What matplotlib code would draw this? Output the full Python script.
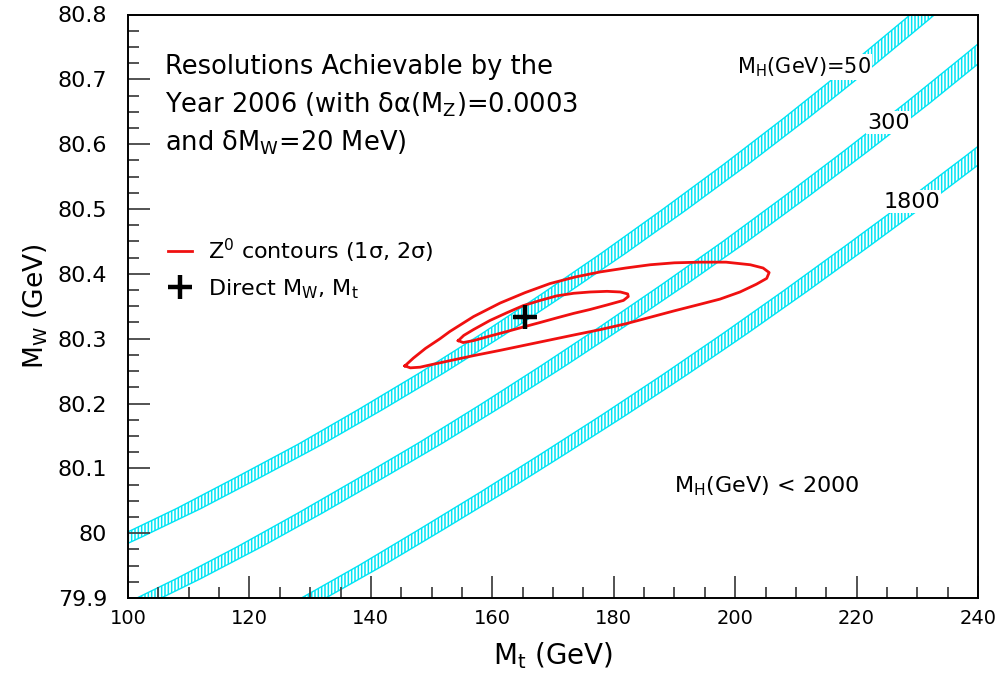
import matplotlib.pyplot as plt
import numpy as np
from matplotlib.ticker import MultipleLocator, FuncFormatter

plt.rcParams['mathtext.default'] = 'regular'
plt.rcParams['hatch.linewidth'] = 1.1

# Higgs-mass bands: centre lines (Mt in GeV, MW in GeV)
mt_50 = [90, 100, 110, 120, 130, 140, 150, 160, 170, 180, 190, 200, 210, 220, 230, 240]
mw_50 = [79.950, 79.993, 80.038, 80.087, 80.137, 80.191, 80.247, 80.306,
         80.368, 80.432, 80.499, 80.568, 80.640, 80.715, 80.793, 80.873]
mt_300 = [100, 110, 120, 130, 140, 150, 160, 170, 180, 190, 200, 210, 220, 230, 240, 250]
mw_300 = [79.884, 79.930, 79.979, 80.031, 80.085, 80.140, 80.198, 80.258,
          80.320, 80.384, 80.450, 80.519, 80.590, 80.663, 80.739, 80.817]
mt_1800 = [120, 130, 140, 150, 160, 170, 180, 190, 200, 210, 220, 230, 240, 250]
mw_1800 = [79.845, 79.897, 79.950, 80.006, 80.063, 80.122, 80.182, 80.244,
           80.308, 80.374, 80.442, 80.511, 80.582, 80.655]
band_halfwidth = 2.0  # in Mt

# Z0 contours (2 sigma outer, 1 sigma inner)
outer_mt = [145.6, 147.0, 149.0, 151.4, 153.0, 156.9, 161.3, 165.4, 169.5, 173.6, 177.8, 182.0, 186.0, 190.0,
            194.2, 198.5, 202.5, 204.6, 205.6,
            205.2, 203.5, 200.8, 197.5, 194.2, 190.0, 186.0, 182.0, 177.8, 173.6, 169.5, 165.4, 161.3, 157.0,
            153.0, 150.0, 148.1, 146.5]
outer_mw = [80.258, 80.270, 80.285, 80.300, 80.311, 80.334, 80.355, 80.371, 80.385, 80.395, 80.403, 80.409, 80.414, 80.417,
            80.418, 80.418, 80.414, 80.409, 80.402,
            80.393, 80.384, 80.372, 80.361, 80.353, 80.343, 80.333, 80.323, 80.314, 80.306, 80.298, 80.290, 80.282, 80.274,
            80.266, 80.260, 80.256, 80.255]
inner_mt = [154.4, 155.3, 156.9, 159.6, 162.4, 165.1, 167.9, 170.6, 173.4, 176.1, 178.9, 181.1, 182.3, 182.4,
            181.6, 178.9, 176.1, 173.4, 170.6, 167.9, 165.1, 162.4, 159.6, 156.9, 155.2]
inner_mw = [80.297, 80.305, 80.314, 80.328, 80.340, 80.351, 80.359, 80.366, 80.370, 80.372, 80.373, 80.372, 80.369, 80.365,
            80.359, 80.352, 80.345, 80.339, 80.332, 80.325, 80.318, 80.311, 80.304, 80.297, 80.294]

# direct measurement
mt_direct = 165.4
mw_direct = 80.333

cyan = '#00e4f4'
red = '#f01010'

fig = plt.figure(figsize=(10.02, 6.75), dpi=100)
ax = fig.add_axes([128/1002, 77/675, 850/1002, 583.5/675])

for mt, mw in [(mt_50, mw_50), (mt_300, mw_300), (mt_1800, mw_1800)]:
    mt = np.array(mt)
    mw = np.array(mw)
    xs = np.concatenate([mt - band_halfwidth, (mt + band_halfwidth)[::-1]])
    ys = np.concatenate([mw, mw[::-1]])
    ax.fill(xs, ys, facecolor='none', edgecolor=cyan, hatch='|||||', linewidth=1.0, zorder=1)

ax.plot(outer_mt + outer_mt[:1], outer_mw + outer_mw[:1], color=red, lw=2.0, zorder=3,
        label=r'Z$^{0}$ contours (1$\sigma$, 2$\sigma$)')
ax.plot(inner_mt + inner_mt[:1], inner_mw + inner_mw[:1], color=red, lw=2.0, zorder=3)
ax.plot([mt_direct], [mw_direct], ls='none', marker='+', color='black', markersize=17, mew=3.2, zorder=4,
        label=r'Direct M$_{W}$, M$_{t}$')

ax.set_xlim(100, 240)
ax.set_ylim(79.9, 80.8)
ax.xaxis.set_major_locator(MultipleLocator(20))
ax.xaxis.set_minor_locator(MultipleLocator(5))
ax.yaxis.set_major_locator(MultipleLocator(0.1))
ax.yaxis.set_minor_locator(MultipleLocator(0.025))
ax.yaxis.set_major_formatter(FuncFormatter(lambda v, p: '%g' % round(v, 2)))
ax.tick_params(which='both', direction='in', top=False, right=False, color='#444444', width=1.3)
ax.tick_params(which='major', length=16)
ax.tick_params(which='minor', length=8)
ax.tick_params(axis='y', labelsize=16, pad=15)
ax.tick_params(axis='x', labelsize=14, pad=8)
for s in ax.spines.values():
    s.set_linewidth(1.4)

ax.set_xlabel(r'M$_{t}$ (GeV)', fontsize=20)
ax.set_ylabel(r'M$_{W}$ (GeV)', fontsize=19)
ax.xaxis.set_label_coords(0.5, -0.072)
ax.yaxis.set_label_coords(-0.092, 0.5)

ax.text(0.0435, 0.910, 'Resolutions Achievable by the', transform=ax.transAxes, fontsize=18.5, va='center')
ax.text(0.0435, 0.845, r'Year 2006 (with $\delta\alpha$(M$_{Z}$)=0.0003', transform=ax.transAxes, fontsize=18.5, va='center')
ax.text(0.0435, 0.780, r'and $\delta$M$_{W}$=20 MeV)', transform=ax.transAxes, fontsize=18.5, va='center')

box = dict(facecolor='white', edgecolor='none', pad=1)
ax.text(0.795, 0.910, r'M$_{H}$(GeV)=50', transform=ax.transAxes, fontsize=15, ha='center', va='center', bbox=box, zorder=5)
ax.text(0.8947, 0.8146, '300', transform=ax.transAxes, fontsize=16, ha='center', va='center', bbox=box, zorder=5)
ax.text(0.922, 0.679, '1800', transform=ax.transAxes, fontsize=16, ha='center', va='center', bbox=box, zorder=5)
ax.text(0.7514, 0.1923, r'M$_{H}$(GeV) < 2000', transform=ax.transAxes, fontsize=16, ha='center', va='center', bbox=box, zorder=5)

ax.legend(loc='upper left', bbox_to_anchor=(0.047, 0.619), frameon=False, fontsize=16,
          handlelength=1.1, handletextpad=0.7, labelspacing=0.55, borderpad=0, borderaxespad=0)

fig.savefig('out.png', dpi=100)
